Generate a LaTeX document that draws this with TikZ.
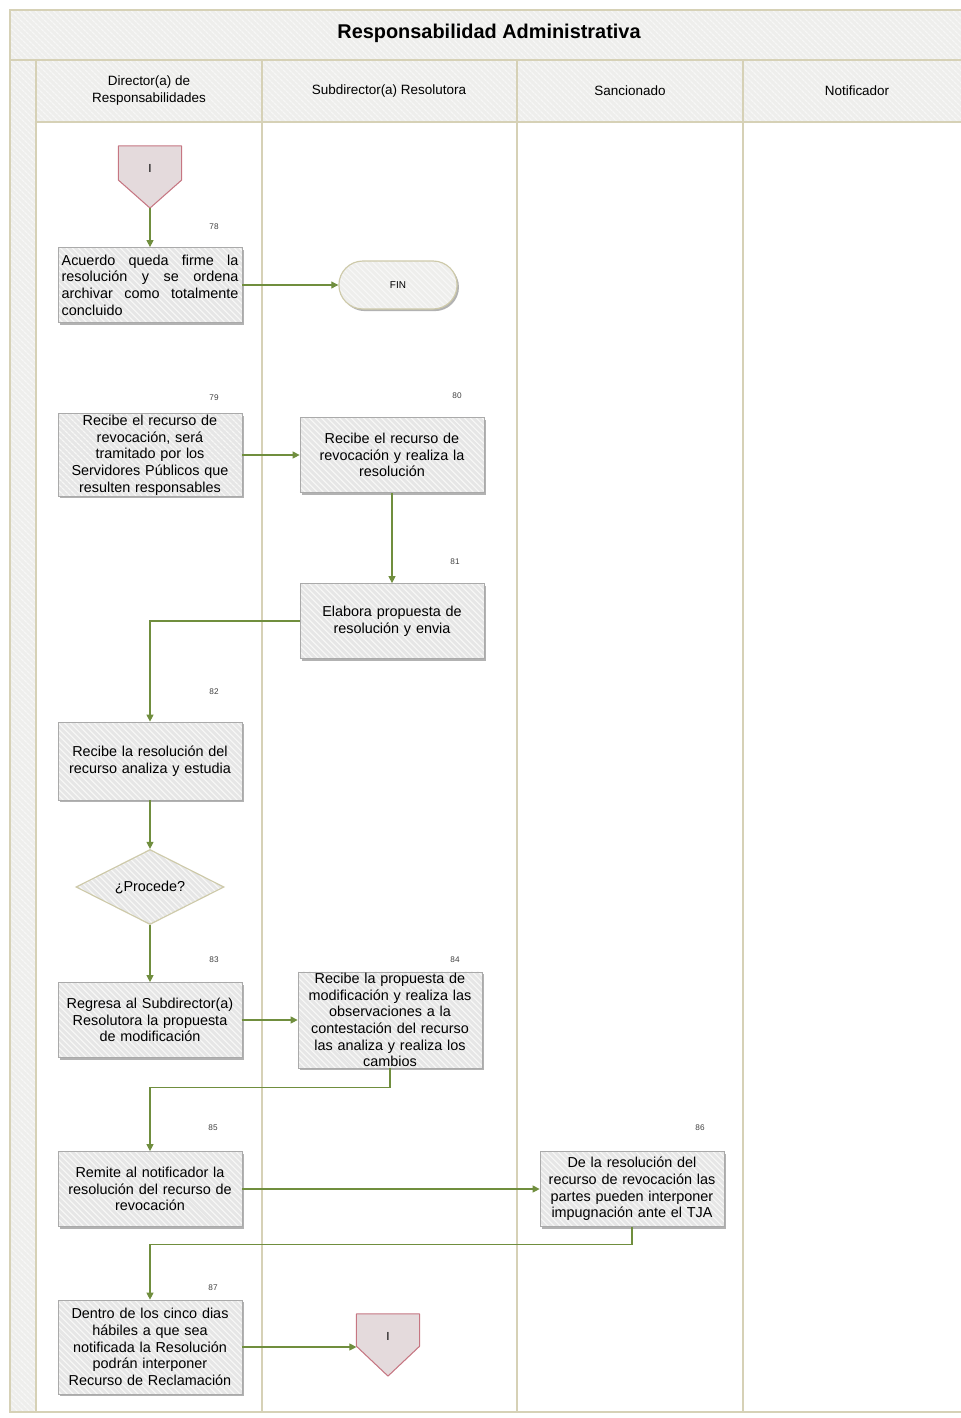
\documentclass[tikz,border=0pt]{standalone}
\usepackage{fontspec}
\setmainfont{Liberation Sans}
\usepackage{tikz}
\usetikzlibrary{
  positioning, arrows.meta, calc, shapes.geometric,
  shapes.misc, backgrounds, patterns.meta
}
\definecolor{lanebrd}{RGB}{214,209,182}
\definecolor{headfill}{RGB}{238,238,236}
\definecolor{stripe}{RGB}{247,247,246}
\definecolor{boxfill}{RGB}{230,230,230}
\definecolor{boxbrd}{RGB}{170,170,170}
\definecolor{arrgreen}{RGB}{112,142,62}
\definecolor{offfill}{RGB}{228,218,220}
\definecolor{offbrd}{RGB}{198,118,130}
\definecolor{termbrd}{RGB}{206,202,170}

\begin{document}
\begin{tikzpicture}[
  x=0.03cm, y=-0.03cm,
  hatch/.style={preaction={fill=#1}, pattern={Lines[angle=-45, distance=4pt, line width=1.2pt]}, pattern color=stripe},
  shade box/.style={preaction={fill=black!30, transform canvas={shift={(1.6pt,-1.8pt)}}}},
  lane/.style={draw=lanebrd, line width=1.3pt},
  lanehead/.style={align=center, font=\fontsize{11.5}{14.5}\selectfont},
  title/.style={font=\bfseries\fontsize{17}{20}\selectfont},
  box/.style={rectangle, draw=boxbrd, line width=0.6pt, shade box, hatch=boxfill,
    minimum width=5.52cm, minimum height=2.25cm, text width=5.3cm, inner xsep=0.11cm,
    inner ysep=1pt, align=center, font=\fontsize{12.3}{14.2}\selectfont},
  term/.style={rounded rectangle, draw=termbrd, line width=1pt, shade box, hatch=headfill,
    minimum width=3.78cm, minimum height=1.44cm, font=\fontsize{8.5}{10}\selectfont},
  decision/.style={diamond, aspect=2, draw=termbrd, line width=1pt, hatch=boxfill,
    minimum width=4.44cm, minimum height=2.25cm, inner sep=0pt, font=\fontsize{12.3}{14}\selectfont},
  offpage/.style={rectangle, minimum width=1.88cm, minimum height=1.85cm, inner sep=0pt,
    text height=0.78cm, text depth=1.07cm, font=\fontsize{10}{12}\selectfont},
  offline/.style={draw=offbrd, line width=0.9pt, fill=offfill, line join=round},
  num/.style={font=\fontsize{7}{8}\selectfont, text=black!75},
  arr/.style={-{Triangle[length=6pt, width=6pt]}, draw=arrgreen, line width=0.9pt}
]
\useasboundingbox (0,0) rectangle (961,1418);
\clip (0,0) rectangle (961,1418);

% pool and lanes
\path[hatch=headfill] (10,10) rectangle (975,60);
\path[hatch=headfill] (36,60) rectangle (975,122);
\path[hatch=headfill] (10,60) rectangle (36,1412);
\draw[lane] (10,10) rectangle (975,1412);
\draw[lane] (10,60) -- (975,60);
\draw[lane] (36,122) -- (975,122);
\draw[lane] (36,60) -- (36,1412);
\draw[lane] (262,60) -- (262,1412);
\draw[lane] (517,60) -- (517,1412);
\draw[lane] (743,60) -- (743,1412);

\node[title] (ttl) at (489,33) {Responsabilidad Administrativa};
\node[lanehead] (hdir) at (149,91) {Director(a) de\\Responsabilidades};
\node[lanehead] (hsub) at (389,91) {Subdirector(a) Resolutora};
\node[lanehead] (hsan) at (630,91) {Sancionado};
\node[lanehead] (hnot) at (857,91) {Notificador};

% activities
\node[offpage] (offA) at (150,177) {I};
\node[box, align=justify] (act78) at (150,285) {Acuerdo queda firme la\linebreak resolución y se ordena\linebreak archivar como totalmente\linebreak concluido};
\node[term] (fin) at (398,285) {FIN};
\node[box] (act79) at (150,455) {Recibe el recurso de\\revocación, será\\tramitado por los\\Servidores Públicos que\\resulten responsables};
\node[box] (act80) at (392,455) {Recibe el recurso de\\revocación y realiza la\\resolución};
\node[box] (act81) at (392,621) {Elabora propuesta de\\resolución y envia};
\node[box, minimum height=2.34cm] (act82) at (150,761) {Recibe la resolución del\\recurso analiza y estudia};
\node[decision] (dec) at (150,887) {¿Procede?};
\node[box] (act83) at (150,1020) {Regresa al Subdirector(a)\\Resolutora la propuesta\\de modificación};
\node[box, minimum height=2.82cm] (act84) at (390,1020) {Recibe la propuesta de\\modificación y realiza las\\observaciones a la\\contestación del recurso\\las analiza y realiza los\\cambios};
\node[box] (act85) at (150,1189) {Remite al notificador la\\resolución del recurso de\\revocación};
\node[box] (act86) at (632,1189) {De la resolución del\\recurso de revocación las\\partes pueden interponer\\impugnación ante el TJA};
\node[box, minimum height=2.82cm] (act87) at (150,1347) {Dentro de los cinco dias\\hábiles a que sea\\notificada la Resolución\\podrán interponer\\Recurso de Reclamación};
\node[offpage] (offB) at (388,1345) {I};

\begin{scope}[on background layer]
\draw[offline] (offA.north west) -- (offA.north east) -- ($(offA.north east)!0.55!(offA.south east)$) -- (offA.south) -- ($(offA.north west)!0.55!(offA.south west)$) -- cycle;
\draw[offline] (offB.north west) -- (offB.north east) -- ($(offB.north east)!0.52!(offB.south east)$) -- (offB.south) -- ($(offB.north west)!0.52!(offB.south west)$) -- cycle;
\end{scope}

% step numbers
\node[num] (n78) at (214,227) {78};
\node[num] (n79) at (214,398) {79};
\node[num] (n80) at (457,396) {80};
\node[num] (n81) at (455,562) {81};
\node[num] (n82) at (214,692) {82};
\node[num] (n83) at (214,960) {83};
\node[num] (n84) at (455,960) {84};
\node[num] (n85) at (213,1128) {85};
\node[num] (n86) at (700,1128) {86};
\node[num] (n87) at (213,1288) {87};

% flow
\draw[arr] (offA.south) -- (act78.north);
\draw[arr] (act78.east) -- (fin.west);
\draw[arr] (act79) -- (act80);
\draw[arr] (act80) -- (act81);
\draw[arr] (act81.west) -| (act82.north);
\draw[arr] (act82) -- (dec);
\draw[arr] (dec) -- (act83);
\draw[arr] (act83) -- (act84);
\draw[arr] (act84.south) -- ++(0,19) -| (act85.north);
\draw[arr] (act85) -- (act86);
\draw[arr] (act86.south) -- ++(0,18) -| (act87.north);
\draw[arr] (act87.east) -- (act87.east -| offB.west);
\end{tikzpicture}
\end{document}
